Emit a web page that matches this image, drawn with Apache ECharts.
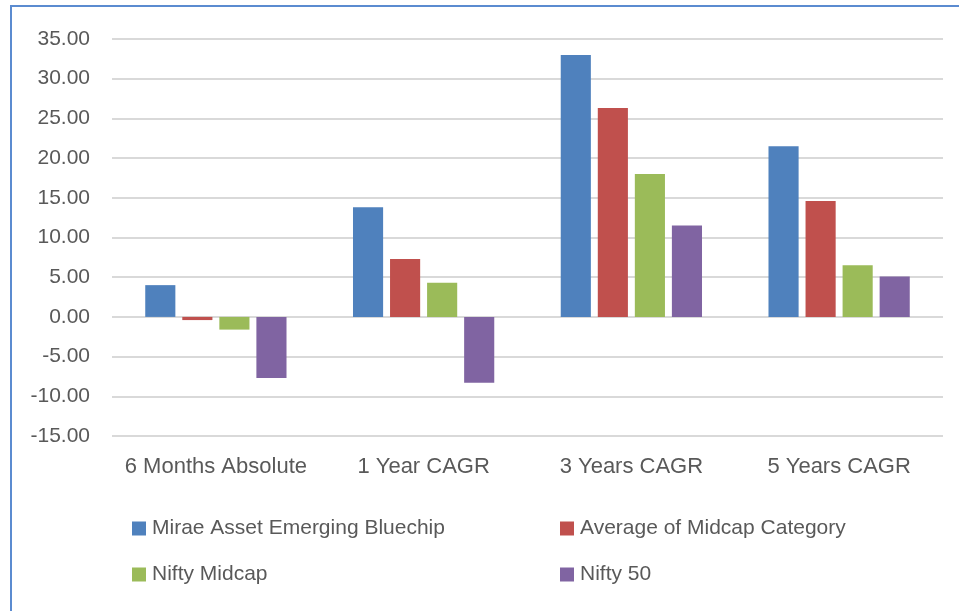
<!DOCTYPE html>
<html>
<head>
<meta charset="utf-8">
<script src="https://cdn.jsdelivr.net/npm/echarts@6/dist/echarts.min.js"></script>
<style>
html, body { margin: 0; padding: 0; background: #fff; overflow: hidden; }
#frame { position: absolute; left: 10px; top: 5px; width: 1000px; height: 700px; border: 2px solid #5b8bd0; }
#chart { position: absolute; left: 0; top: 0; width: 959px; height: 611px; }
</style>
</head>
<body>
<div id="frame"></div>
<div id="chart"></div>
<script>
var categories = ['6 Months Absolute', '1 Year CAGR', '3 Years CAGR', '5 Years CAGR'];
var mirae = [4.0, 13.8, 33.0, 21.5];
var midcapAvg = [-0.4, 7.3, 26.3, 14.6];
var niftyMidcap = [-1.6, 4.3, 18.0, 6.5];
var nifty50 = [-7.7, -8.3, 11.5, 5.1];

var seriesNames = ['Mirae Asset Emerging Bluechip', 'Average of Midcap Category', 'Nifty Midcap', 'Nifty 50'];
var colors = ['#4f81bd', '#c0504d', '#9bbb59', '#8064a2'];
var font = '"Liberation Sans", sans-serif';

var chart = echarts.init(document.getElementById('chart'));

function bar(name, data, i) {
    return {
        name: name,
        type: 'bar',
        data: data,
        barGap: '23%',
        barCategoryGap: '32%',
        itemStyle: { color: colors[i] }
    };
}

var legendText = { color: '#595959', fontSize: 21, fontFamily: font, padding: [0, 0, 0, 1] };

chart.setOption({
    animation: false,
    color: colors,
    grid: { left: 112, right: 16, top: 39, bottom: 175 },
    legend: [{
        data: [seriesNames[0], seriesNames[2]],
        orient: 'vertical',
        left: 127,
        top: 513,
        itemGap: 25,
        itemWidth: 14,
        itemHeight: 14,
        icon: 'rect',
        textStyle: legendText
    }, {
        data: [seriesNames[1], seriesNames[3]],
        orient: 'vertical',
        left: 555,
        top: 513,
        itemGap: 25,
        itemWidth: 14,
        itemHeight: 14,
        icon: 'rect',
        textStyle: legendText
    }],
    xAxis: {
        type: 'category',
        data: categories,
        axisLine: { show: false },
        axisTick: { show: false },
        axisLabel: { color: '#595959', fontSize: 22, fontFamily: font, margin: 20, interval: 0 }
    },
    yAxis: {
        type: 'value',
        min: -15,
        max: 35,
        interval: 5,
        axisLine: { show: false },
        axisTick: { show: false },
        splitLine: { lineStyle: { color: '#d9d9d9', width: 2 } },
        axisLabel: {
            color: '#595959', fontSize: 21, fontFamily: font, margin: 22,
            formatter: function (v) { return v.toFixed(2); }
        }
    },
    series: [
        bar(seriesNames[0], mirae, 0),
        bar(seriesNames[1], midcapAvg, 1),
        bar(seriesNames[2], niftyMidcap, 2),
        bar(seriesNames[3], nifty50, 3)
    ]
});
</script>
</body>
</html>
